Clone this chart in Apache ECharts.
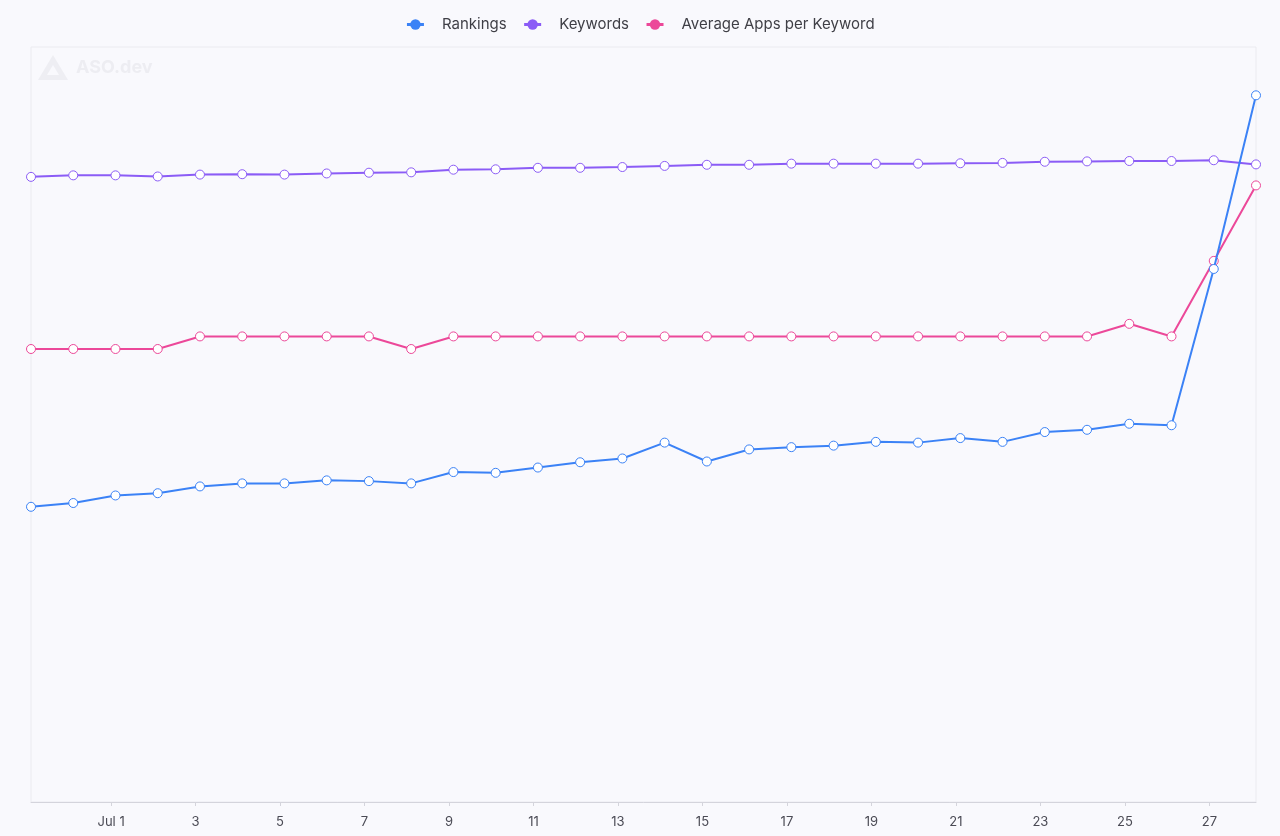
<!DOCTYPE html>
<html>
<head>
<meta charset="utf-8">
<title>ASO.dev metrics</title>
<script src="https://cdn.jsdelivr.net/npm/echarts@6/dist/echarts.min.js"></script>
<style>
  html, body { margin: 0; padding: 0; background: #f9f9fd; }
  #chart { width: 1280px; height: 836px; }
</style>
</head>
<body>
<div id="chart"></div>
<script>
const dates = [
  "2025-06-29T02:30:00", "2025-06-30T02:30:00", "2025-07-01T02:30:00", "2025-07-02T02:30:00",
  "2025-07-03T02:30:00", "2025-07-04T02:30:00", "2025-07-05T02:30:00", "2025-07-06T02:30:00",
  "2025-07-07T02:30:00", "2025-07-08T02:30:00", "2025-07-09T02:30:00", "2025-07-10T02:30:00",
  "2025-07-11T02:30:00", "2025-07-12T02:30:00", "2025-07-13T02:30:00", "2025-07-14T02:30:00",
  "2025-07-15T02:30:00", "2025-07-16T02:30:00", "2025-07-17T02:30:00", "2025-07-18T02:30:00",
  "2025-07-19T02:30:00", "2025-07-20T02:30:00", "2025-07-21T02:30:00", "2025-07-22T02:30:00",
  "2025-07-23T02:30:00", "2025-07-24T02:30:00", "2025-07-25T02:30:00", "2025-07-26T02:30:00",
  "2025-07-27T02:30:00", "2025-07-28T02:30:00"
];

const rankings = [
  391, 396, 406, 409, 418, 422, 422, 426, 425, 422,
  437, 436, 443, 450, 455, 476, 451, 467, 470, 472,
  477, 476, 482, 477, 490, 493, 501, 499, 706, 936
];

const keywords = [
  1656, 1660, 1660, 1657, 1662, 1663, 1662, 1665, 1667, 1668,
  1675, 1676, 1680, 1680, 1682, 1685, 1688, 1688, 1691, 1691,
  1691, 1691, 1692, 1693, 1696, 1697, 1698, 1698, 1700, 1689
];

const avgApps = [
  36, 36, 36, 36, 37, 37, 37, 37, 37, 36,
  37, 37, 37, 37, 37, 37, 37, 37, 37, 37,
  37, 37, 37, 37, 37, 37, 38, 37, 43, 49
];

const seriesNames = ["Rankings", "Keywords", "Average Apps per Keyword"];
const colors = ["#3b82f6", "#8b5cf6", "#ec4899"];
const axisMax = [1000, 2000, 60];
const monthNames = ["Jan", "Feb", "Mar", "Apr", "May", "Jun", "Jul", "Aug", "Sep", "Oct", "Nov", "Dec"];

const chart = echarts.init(document.getElementById("chart"));

function pairs(values) {
  return values.map((v, i) => [dates[i], v]);
}

const allValues = [rankings, keywords, avgApps];

const option = {
  backgroundColor: "#f9f9fd",
  textStyle: { fontFamily: "Inter" },
  animation: false,
  legend: {
    top: 12,
    left: "center",
    itemWidth: 17,
    itemHeight: 13,
    itemGap: 16,
    lineStyle: { width: 3 },
    textStyle: {
      color: "#3f3f46",
      fontSize: 15,
      fontFamily: "Inter",
      padding: [0, 0, 0, 13],
    },
    data: seriesNames.map((name, i) => ({
      name,
      itemStyle: { color: colors[i], borderWidth: 0 },
    })),
  },
  graphic: [
    {
      type: "group",
      left: 38,
      top: 55,
      silent: true,
      children: [
        {
          type: "polygon",
          shape: { points: [[15, 0], [30, 25], [0, 25]] },
          style: { fill: "#eeeef3" },
        },
        {
          type: "polygon",
          shape: { points: [[15, 10], [21, 20], [9, 20]] },
          style: { fill: "#f9f9fd" },
        },
        {
          type: "text",
          left: 38,
          top: 4,
          style: {
            text: "ASO.dev",
            fill: "#ededf2",
            font: "bold 18px Inter",
          },
        },
      ],
    },
  ],
  grid: {
    left: 31,
    right: 24,
    top: 47,
    bottom: 34,
    show: true,
    borderColor: "#ebebf0",
    borderWidth: 1,
  },
  xAxis: {
    type: "time",
    min: "dataMin",
    max: "dataMax",
    splitNumber: 14,
    axisLine: { lineStyle: { color: "#d4d4dc", width: 1 } },
    axisTick: { show: true, length: 4, lineStyle: { color: "#d4d4dc" } },
    splitLine: { show: false },
    axisLabel: {
      color: "#4b4b55",
      fontSize: 13,
      margin: 14,
      hideOverlap: false,
      formatter: function (value) {
        const d = new Date(value);
        if (d.getDate() === 1) {
          return monthNames[d.getMonth()] + " 1";
        }
        return String(d.getDate());
      },
    },
  },
  yAxis: axisMax.map((max) => ({
    type: "value",
    show: false,
    min: 0,
    max: max,
    splitLine: { show: false },
  })),
  series: seriesNames.map((name, i) => ({
    name,
    type: "line",
    yAxisIndex: i,
    data: pairs(allValues[i]),
    symbol: "circle",
    symbolSize: 9,
    lineStyle: { color: colors[i], width: 2 },
    itemStyle: { color: "#ffffff", borderColor: colors[i], borderWidth: 1 },
    z: 3 - i,
  })),
};

chart.setOption(option);
</script>
</body>
</html>
